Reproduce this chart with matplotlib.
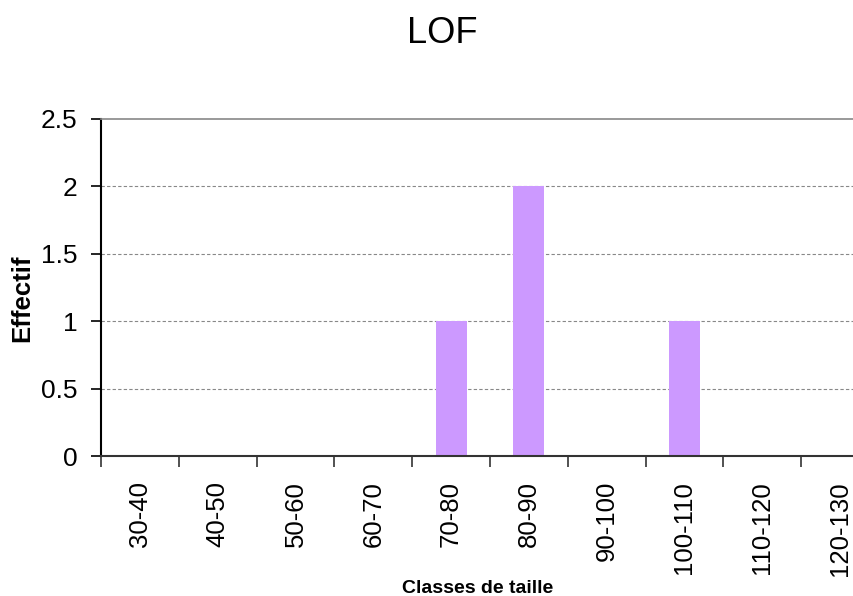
import matplotlib
matplotlib.use('Agg')
from matplotlib import pyplot as plt
import numpy as np

plt.rcParams['font.family'] = ['Liberation Sans', 'DejaVu Sans']

# Size classes and counts
classes = ['30-40', '40-50', '50-60', '60-70', '70-80',
           '80-90', '90-100', '100-110', '110-120', '120-130']
effectif = [0, 0, 0, 0, 1, 2, 0, 1, 0, 0]
yticks = [0, 0.5, 1, 1.5, 2, 2.5]

W, H = 854, 596
fig = plt.figure(figsize=(W / 100, H / 100), dpi=100)

# plot area runs past the right edge of the figure
ax = fig.add_axes([101 / W, 1 - 456 / H, 778 / W, 337 / H])

x = np.arange(len(classes))
ax.bar(x, effectif, width=0.4, color='#CC99FF', zorder=2)

ax.set_xlim(-0.5, len(classes) - 0.5)
ax.set_ylim(0, 2.5)
ax.set_yticks(yticks)
ax.set_yticklabels(['0', '0.5', '1', '1.5', '2', '2.5'], fontsize=19)

# category labels centered, tick marks between categories
ax.set_xticks(x)
ax.set_xticklabels(classes, rotation=90, fontsize=18.5)
ax.tick_params(axis='x', length=0, pad=18)
ax.set_xticks(np.arange(len(classes) + 1) - 0.5, minor=True)
ax.tick_params(axis='x', which='minor', length=8, width=1.2, direction='out', color='#333333')
ax.tick_params(axis='y', length=7, width=1.2, direction='out', pad=10)

for v in yticks[1:-1]:
    ax.axhline(v, color='#888888', lw=0.8, ls=(0, (3, 2)), zorder=1)

ax.spines['left'].set_color('black')
ax.spines['left'].set_linewidth(1.5)
ax.spines['bottom'].set_color('#333333')
ax.spines['bottom'].set_linewidth(1.5)
ax.spines['top'].set_color('#888888')
ax.spines['top'].set_linewidth(1.2)
ax.spines['right'].set_visible(False)

fig.text(442 / W, 1 - 43 / H, 'LOF', fontsize=26, ha='center', va='baseline')
fig.text(22 / W, 1 - 298 / H, 'Effectif', fontsize=18.5, fontweight='bold',
         rotation=90, ha='center', va='center')
fig.text(478 / W, 1 - 593 / H, 'Classes de taille', fontsize=14, fontweight='bold',
         ha='center', va='baseline')

fig.savefig('out.png', dpi=100)
